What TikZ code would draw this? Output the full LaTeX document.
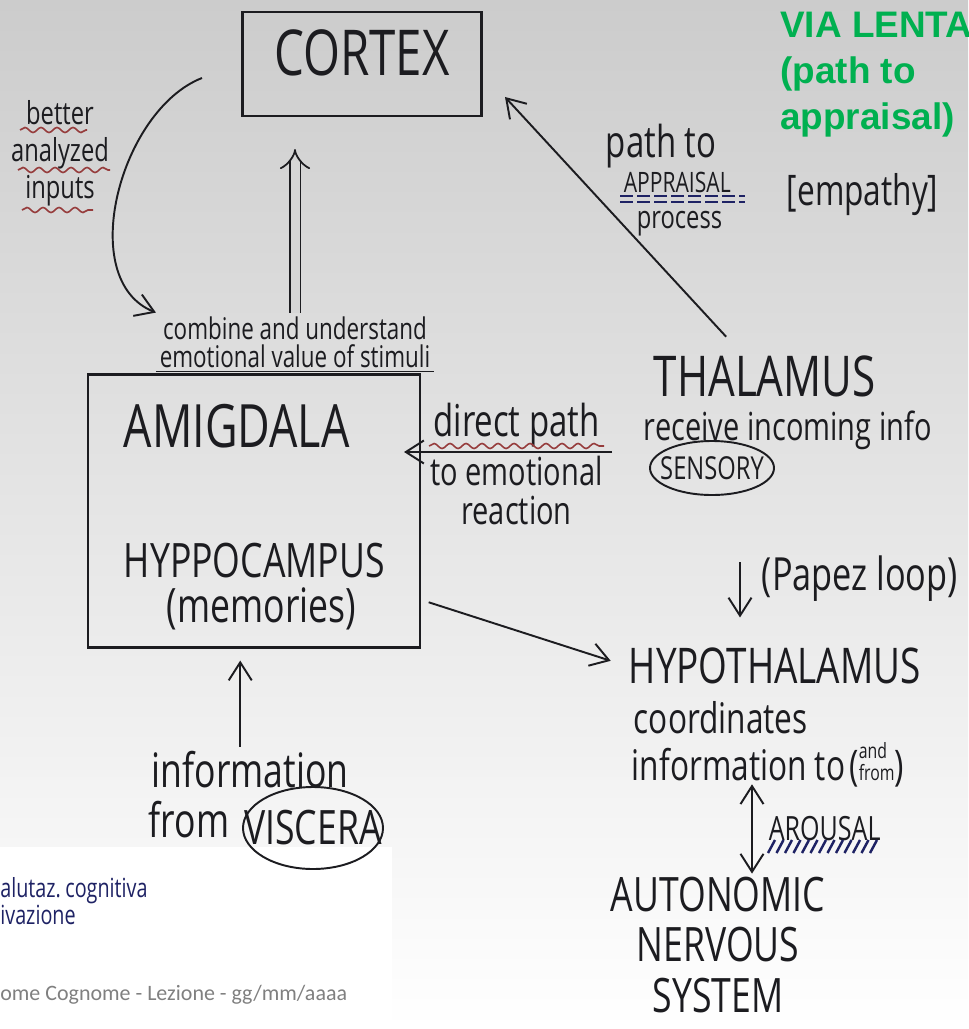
\documentclass[tikz,border=0pt]{standalone}
\usepackage{fontspec}
\setmainfont{Open Sans}
\newfontfamily\hand[FakeStretch=0.75]{Open Sans}
\newfontfamily\slide{Liberation Sans}
\newfontfamily\footer{Carlito}
\usetikzlibrary{shapes.geometric, arrows.meta, decorations.pathmorphing}
\definecolor{inkblack}{RGB}{28,28,32}
\definecolor{inkblue}{RGB}{30,34,100}
\definecolor{inkred}{RGB}{150,60,60}
\definecolor{viagreen}{RGB}{0,176,80}
\definecolor{footgrey}{RGB}{128,128,128}
\newcommand\hw[2]{\hand\fontsize{#1}{#2}\selectfont}
\tikzstyle{scribble} = [text=inkblack, inner sep=2pt]
\tikzstyle{boxed} = [rectangle, draw=inkblack, line width=1.2pt]
\tikzstyle{circled} = [ellipse, draw=inkblack, line width=1.1pt, text=inkblack]
\tikzstyle{arrow} = [draw=inkblack, line width=1.1pt, -{Straight Barb[length=3.6mm,width=4.6mm]}]
\tikzstyle{twoway} = [draw=inkblack, line width=1.1pt, {Straight Barb[length=3.6mm,width=4.6mm]}-{Straight Barb[length=3.6mm,width=4.6mm]}]
\tikzstyle{dblarrow} = [draw=inkblack, double=black!16, double distance=1.8mm, line width=1pt, -{Implies}]
\tikzstyle{wavy} = [draw=inkred, line width=0.9pt, decorate, decoration={snake, segment length=3.2mm, amplitude=0.5mm}]
\begin{document}
\begin{tikzpicture}[x=0.2mm, y=-0.2mm]
    \useasboundingbox (0,0) rectangle (968,1029);
    \clip (0,0) rectangle (968,1029);
    \shade [top color=black!20, middle color=black!9, bottom color=white] (0,0) rectangle (968,1029);
    \fill [white] (0,847) rectangle (392,1029);

    \node (cortex) [boxed, scribble, font=\hw{36}{40}, minimum width=47.8mm, minimum height=20.8mm, text height=9.2mm, text depth=4.8mm] at (362,64) {CORTEX};
    \node (better) [scribble, font=\hw{18}{21}, align=center] at (60,153) {better\\analyzed\\inputs};
    \node (combine) [scribble, font=\hw{17}{16}, align=center] at (295,342) {combine and understand\\emotional value of stimuli};
    \node (limbic) [boxed, minimum width=66.4mm, minimum height=54.6mm] at (254,511) {};
    \node (amig) [scribble, font=\hw{34}{40}, anchor=base west] at (120,447) {AMIGDALA};
    \node (hippo) [scribble, font=\hw{27}{30}, anchor=base west] at (120,577) {HYPPOCAMPUS};
    \node (memories) [scribble, font=\hw{27}{30}, anchor=base west] at (163,622) {(memories)};
    \node (ptpath) [scribble, font=\hw{25}{28}, anchor=base west] at (602,157) {path to};
    \node (appraisal) [scribble, font=\hw{16}{18}, anchor=base west] at (620,192) {APPRAISAL};
    \node (process) [scribble, font=\hw{18}{20}, anchor=base west] at (633,228) {process};
    \node (empathy) [scribble, font=\hw{24}{28}, anchor=base west] at (783,205) {[empathy]};
    \node (via) [font=\slide\bfseries\fontsize{21}{26}\selectfont, text=viagreen, align=left, anchor=north west, inner sep=0pt] at (780,12) {VIA LENTA\\(path to\\appraisal)};
    \node (thalamus) [scribble, font=\hw{32}{36}, anchor=base west] at (650,396) {THALAMUS};
    \node (receive) [scribble, font=\hw{22}{26}, anchor=base west] at (640,440) {receive incoming info};
    \node (sensory) [circled, font=\hw{18}{20}, minimum width=24.8mm, minimum height=10.8mm, inner xsep=-3mm, inner ysep=0pt] at (712,468) {SENSORY};
    \node (papez) [scribble, font=\hw{26}{28}, anchor=base west] at (758,590) {(Papez loop)};
    \node (hypo) [scribble, font=\hw{28}{30}, anchor=base west] at (625,683) {HYPOTHALAMUS};
    \node (coord) [scribble, font=\hw{24}{26}, anchor=base west] at (630,733) {coordinates};
    \node (infoto) [scribble, font=\hw{24}{26}, anchor=base west] at (628,780) {information to};
    \node (andfrom) [scribble, font=\hw{24}{26}, anchor=base west, inner sep=0pt] at (infoto.base east) {({\hw{12}{11}\shortstack[l]{and\\from}})};
    \node (arousal) [scribble, font=\hw{19}{20}, anchor=base west] at (765,840) {AROUSAL};
    \node (ans) [scribble, font=\hw{27}{28.5}, align=center] at (718,945) {AUTONOMIC\\NERVOUS\\SYSTEM};
    \node (info) [scribble, font=\hw{27}{30}, anchor=base west] at (148,787) {information};
    \node (from) [scribble, font=\hw{27}{30}, anchor=base west] at (145,837) {from};
    \node (viscera) [circled, font=\hw{27}{30}, minimum width=28mm, minimum height=16.4mm, inner xsep=-4mm, inner ysep=0pt] at (313,828) {VISCERA};
    \node (alutaz) [font=\hw{15}{16}, text=inkblue, anchor=base west, inner sep=0pt] at (0,897) {alutaz.\,cognitiva};
    \node (ivaz) [font=\hw{15}{16}, text=inkblue, anchor=base west, inner sep=0pt] at (0,924) {ivazione};
    \node (footer) [font=\footer\fontsize{12.5}{14}\selectfont, text=footgrey, anchor=base west, inner sep=0pt] at (0,1000) {ome Cognome - Lezione - gg/mm/aaaa};

    \coordinate (loopstart) at (202,78);
    \coordinate (appraisaltip) at (505,97);
    \coordinate (directstart) at (612,452);
    \coordinate (papeztop) at (740,562);
    \coordinate (arousalx) at (752,0);

    \draw [arrow] (loopstart) .. controls (120,110) and (75,280) .. (combine.north west);
    \draw [dblarrow, shorten >=6.4mm] (combine.north) -- (combine.north |- cortex.south);
    \draw [arrow, shorten <=4mm] ([xshift=-5mm]thalamus.north) -- (appraisaltip);
    \draw [arrow, shorten >=-3.4mm] (directstart) -- (directstart -| limbic.east)
        node [midway, above, scribble, font=\hw{25}{28}] (direct) {direct path}
        node [midway, below, scribble, font=\hw{22}{22}, align=center] (toemo) {to emotional\\reaction};
    \draw [arrow, shorten <=1.6mm, shorten >=3mm] (limbic.-28) -- (hypo.west);
    \draw [arrow, shorten >=5.2mm] (papeztop) -- (papeztop |- hypo.north);
    \draw [twoway] (ans.north -| arousalx) -- (infoto.south -| arousalx);
    \draw [arrow, shorten >=2.4mm] ([xshift=-2mm]info.north) -- ([xshift=-2mm]info.north |- limbic.south);

    \draw [inkblack, line width=1pt] (combine.south west) -- (combine.south east);
    \draw [wavy] (20,130) -- (87,130);
    \draw [wavy] (18,170) -- (110,170);
    \draw [wavy] (22,210) -- (93,210);
    \draw [wavy] ([yshift=1.2mm]direct.south west) -- ([yshift=1.2mm]direct.south east);
    \draw [inkblue, line width=1.2pt, dash pattern=on 2.6mm off 0.8mm] (appraisal.south west) -- ([xshift=2mm]appraisal.south east);
    \draw [inkblue, line width=1.2pt, dash pattern=on 2.6mm off 0.8mm] ([yshift=-1.1mm]appraisal.south west) -- ([xshift=2mm, yshift=-1.1mm]appraisal.south east);
    \foreach \i in {0,...,12}
        \draw [inkblue, line width=1.4pt] (768+8.5*\i,853) -- ++(7,-13);
\end{tikzpicture}
\end{document}
